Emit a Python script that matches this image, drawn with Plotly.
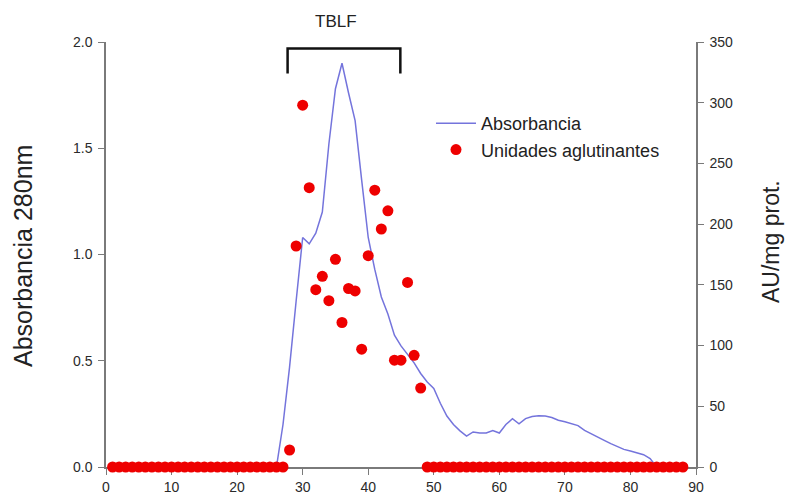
import plotly.graph_objects as go

# Absorbance 280 nm (left axis)
abs_x = list(range(1, 85))
abs_y = [0.0] * 25 + [
    0.0, 0.20, 0.47, 0.78, 1.08, 1.05, 1.10, 1.20, 1.52, 1.78,
    1.90, 1.76, 1.63, 1.35, 1.08, 0.93, 0.80, 0.72, 0.62, 0.57,
    0.53, 0.49, 0.44, 0.40, 0.37, 0.30, 0.24, 0.20, 0.17, 0.145,
    0.165, 0.16, 0.16, 0.172, 0.16, 0.20, 0.227, 0.203, 0.228, 0.238,
    0.241, 0.24, 0.233, 0.22, 0.213, 0.205, 0.195, 0.172, 0.155, 0.14,
    0.125, 0.11, 0.095, 0.083, 0.075, 0.068, 0.058, 0.04, 0.0,
]

# Agglutinating units (right axis)
au_x = list(range(1, 28)) + list(range(28, 49)) + list(range(49, 89))
au_y = [0] * 27 + [14, 182, 298, 230, 146, 157, 137, 171, 119, 147, 145, 97, 174, 228, 196, 211, 88, 88, 152, 92, 65] + [0] * 40

x_ticks = list(range(0, 91, 10))
left_ticks = [0.0, 0.5, 1.0, 1.5, 2.0]
right_ticks = list(range(0, 351, 50))

FONT = "Liberation Sans, Arial, sans-serif"
axis_color = "#7a7a7a"
tick_font = dict(family=FONT, size=14, color="#2a2a2a")

# plot area in pixels
L, R, T, B = 106, 696, 42, 467
PW, PH = R - L, B - T


def px_x(p):
    return (p - L) / PW


def px_y(p):
    return (B - p) / PH


fig = go.Figure()
fig.add_trace(go.Scatter(
    x=abs_x, y=abs_y, mode="lines", name="Absorbancia",
    line=dict(color="#7474dc", width=1.5), yaxis="y", cliponaxis=False,
))
fig.add_trace(go.Scatter(
    x=au_x, y=au_y, mode="markers", name="Unidades aglutinantes",
    marker=dict(color="#ee0000", size=11), yaxis="y2", cliponaxis=False,
))

# TBLF bracket
fig.add_shape(type="path", xref="x", yref="y",
              path="M 27.7 1.852 L 27.7 1.969 L 44.9 1.969 L 44.9 1.852",
              line=dict(color="#111111", width=2.5))
fig.add_annotation(x=35.1, y=px_y(22), xref="x", yref="paper", text="TBLF", showarrow=False,
                   xanchor="center", yanchor="middle",
                   font=dict(family=FONT, size=17, color="#222222"))

fig.add_annotation(x=px_x(23), y=px_y(256), xref="paper", yref="paper",
                   text="Absorbancia 280nm", showarrow=False, textangle=-90,
                   xanchor="center", yanchor="middle",
                   font=dict(family=FONT, size=25, color="#222222"))
fig.add_annotation(x=px_x(771), y=px_y(242), xref="paper", yref="paper",
                   text="AU/mg prot.", showarrow=False, textangle=-90,
                   xanchor="center", yanchor="middle",
                   font=dict(family=FONT, size=23, color="#222222"))

fig.update_layout(
    width=786, height=501,
    margin=dict(l=L, r=786 - R, t=T, b=501 - B),
    paper_bgcolor="white", plot_bgcolor="white",
    showlegend=True,
    legend=dict(x=px_x(431), y=px_y(105), xanchor="left", yanchor="top",
                bgcolor="rgba(0,0,0,0)",
                font=dict(family=FONT, size=18, color="#222222"),
                tracegroupgap=0, itemwidth=40),
    xaxis=dict(range=[0, 90], tickvals=x_ticks, showgrid=False, zeroline=False,
               showline=True, linecolor=axis_color, linewidth=1.5,
               ticks="outside", ticklen=6, tickcolor=axis_color, tickfont=tick_font,
               layer="below traces", automargin=False),
    yaxis=dict(range=[0, 2.0], tickvals=left_ticks, tickformat=".1f", showgrid=False,
               zeroline=False, showline=True, linecolor=axis_color, linewidth=1.5,
               ticks="outside", ticklen=6, tickcolor=axis_color, tickfont=tick_font,
               layer="below traces", ticklabelstandoff=3, automargin=False),
    yaxis2=dict(range=[0, 350], tickvals=right_ticks, overlaying="y", side="right",
                showgrid=False, zeroline=False, showline=True, linecolor=axis_color,
                linewidth=1.5, ticks="outside", ticklen=6, tickcolor=axis_color,
                tickfont=tick_font, layer="below traces", ticklabelstandoff=3,
                automargin=False),
)

fig.write_html("out.html")
